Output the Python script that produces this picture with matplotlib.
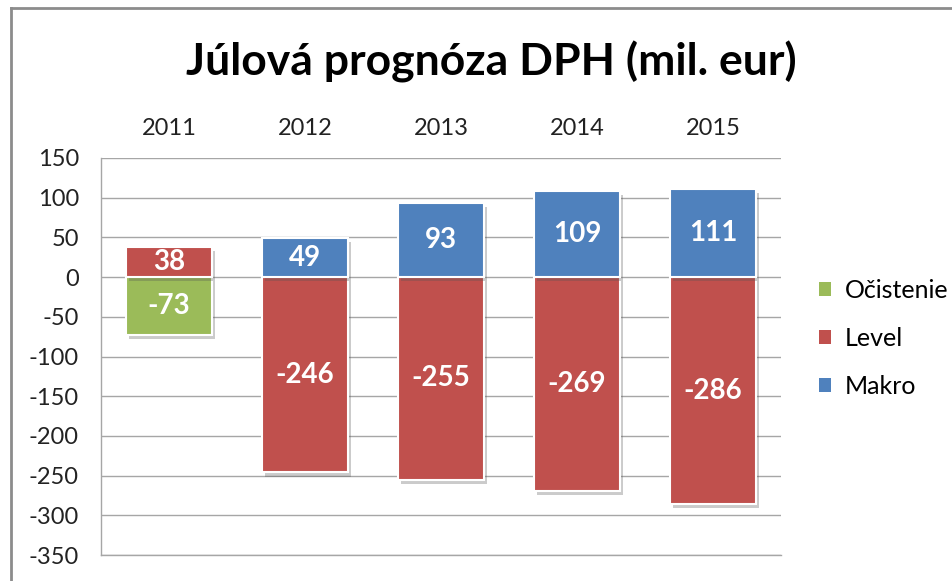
import numpy as np
import matplotlib
matplotlib.use("Agg")
import matplotlib.pyplot as plt
from matplotlib.patches import Patch
from matplotlib.lines import Line2D
import matplotlib.patheffects as pe

plt.rcParams['font.family'] = ['Lato', 'DejaVu Sans']

# data
years = ['2011', '2012', '2013', '2014', '2015']
series = ['Očistenie', 'Level', 'Makro']
ocistenie = [-73, 0, 0, 0, 0]
level = [38, -246, -255, -269, -286]
makro = [0, 49, 93, 109, 111]
yticks = list(range(-350, 151, 50))

colors = {'Očistenie': '#9BBB59', 'Level': '#C0504D', 'Makro': '#4F81BD'}
values = {'Očistenie': ocistenie, 'Level': level, 'Makro': makro}

fig = plt.figure(figsize=(9.53, 5.81), dpi=100)
ax = fig.add_axes([101/953, 26/581, 680/953, 397/581])

x = np.arange(len(years))
pos_bottom = np.zeros(len(years))
neg_bottom = np.zeros(len(years))
shadow = [pe.SimplePatchShadow(offset=(2, -3), shadow_rgbFace='#555555', alpha=0.3), pe.Normal()]

for name in series:
    vals = np.array(values[name], dtype=float)
    bottom = np.where(vals >= 0, pos_bottom, neg_bottom)
    mask = vals != 0
    bars = ax.bar(x[mask], vals[mask], bottom=bottom[mask], width=0.63,
                  color=colors[name], edgecolor='white', linewidth=1.5, zorder=3)
    for b in bars:
        b.set_path_effects(shadow)
    for xi, v, b0 in zip(x[mask], vals[mask], bottom[mask]):
        ax.text(xi, b0 + v / 2, f'{int(v)}', ha='center', va='center',
                color='white', fontsize=20, fontweight='bold', zorder=4)
    pos_bottom = np.where(vals >= 0, pos_bottom + vals, pos_bottom)
    neg_bottom = np.where(vals < 0, neg_bottom + vals, neg_bottom)

ax.set_xlim(-0.5, len(years) - 0.5)
ax.set_ylim(-350, 150)
ax.set_yticks(yticks)
ax.set_yticklabels([str(t) for t in yticks], fontsize=17, color='#222222')
ax.set_xticks(x)
ax.set_xticklabels(years, fontsize=17, color='#222222')
ax.xaxis.tick_top()
ax.tick_params(axis='x', length=0, pad=14)
ax.tick_params(axis='y', length=0, pad=16)
ax.grid(axis='y', color='#a6a6a6', linewidth=1, zorder=0)
for side in ['right', 'top']:
    ax.spines[side].set_visible(False)
for side in ['left', 'bottom']:
    ax.spines[side].set_color('#a6a6a6')
    ax.spines[side].set_linewidth(1)

fig.text(491/953, 1 - 62/581, 'Júlová prognóza DPH (mil. eur)', ha='center', va='center',
         fontsize=32, fontweight='bold', color='black')

handles = [Patch(facecolor=colors[s], edgecolor='none') for s in series]
fig.legend(handles, series, loc='center left', bbox_to_anchor=(819/953, 1 - 338/581),
           frameon=False, fontsize=18, handlelength=0.5, handleheight=0.5,
           handletextpad=0.55, labelspacing=1.0, borderpad=0, borderaxespad=0)

# outer chart frame (left and top edges visible)
fig.add_artist(Line2D([11.5/953, 11.5/953], [0, 1 - 8/581], transform=fig.transFigure,
                      color='#8c8c8c', linewidth=2))
fig.add_artist(Line2D([11.5/953, 1], [1 - 8/581, 1 - 8/581], transform=fig.transFigure,
                      color='#8c8c8c', linewidth=2))

fig.savefig('out.png', dpi=100)
